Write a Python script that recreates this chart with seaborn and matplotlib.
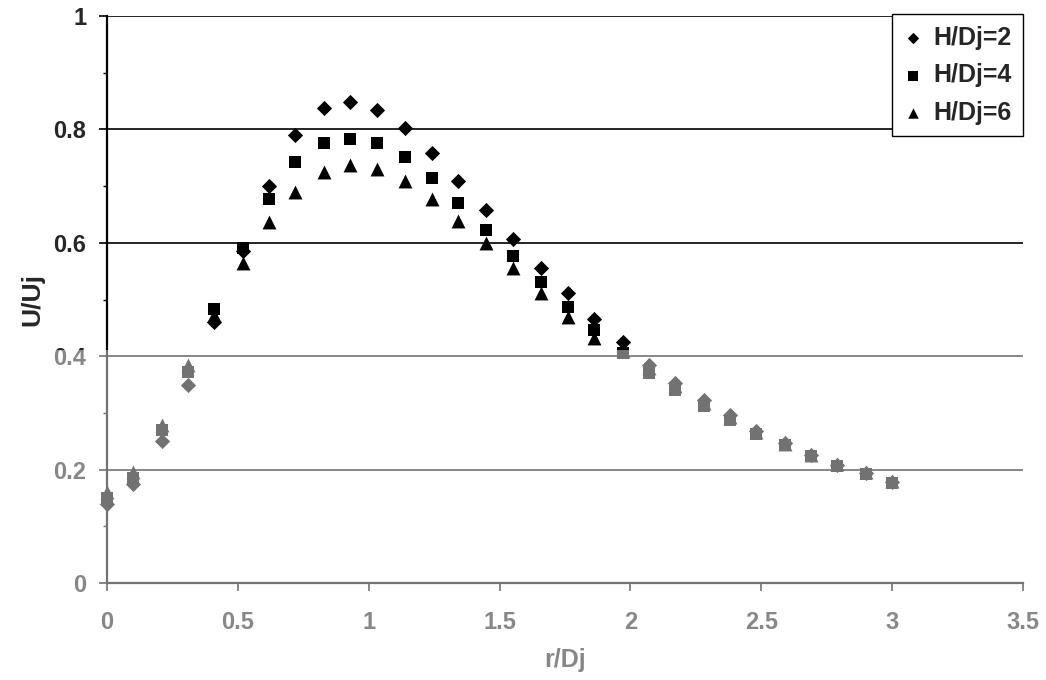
import numpy as np
import pandas as pd
import seaborn as sns
import matplotlib.pyplot as plt
from matplotlib.patches import Rectangle

# r/Dj positions
r = [0.00, 0.10, 0.21, 0.31, 0.41, 0.52, 0.62, 0.72, 0.83, 0.93,
     1.03, 1.14, 1.24, 1.34, 1.45, 1.55, 1.66, 1.76, 1.86, 1.97,
     2.07, 2.17, 2.28, 2.38, 2.48, 2.59, 2.69, 2.79, 2.90, 3.00]

h2 = [0.140, 0.175, 0.250, 0.350, 0.460, 0.585, 0.700, 0.790, 0.838, 0.849,
      0.834, 0.802, 0.759, 0.709, 0.657, 0.606, 0.556, 0.511, 0.465, 0.425,
      0.385, 0.352, 0.322, 0.296, 0.268, 0.247, 0.226, 0.209, 0.194, 0.179]
h4 = [0.150, 0.185, 0.270, 0.372, 0.484, 0.590, 0.678, 0.743, 0.776, 0.783,
      0.776, 0.751, 0.714, 0.670, 0.622, 0.576, 0.531, 0.487, 0.446, 0.405,
      0.370, 0.340, 0.312, 0.287, 0.263, 0.243, 0.224, 0.207, 0.192, 0.177]
h6 = [0.160, 0.195, 0.278, 0.385, 0.472, 0.564, 0.636, 0.690, 0.725, 0.737,
      0.730, 0.709, 0.678, 0.639, 0.599, 0.555, 0.511, 0.469, 0.432, 0.410,
      0.380, 0.348, 0.318, 0.292, 0.267, 0.246, 0.226, 0.210, 0.195, 0.180]

labels = ['H/Dj=2', 'H/Dj=4', 'H/Dj=6']
markers = ['D', 's', '^']
msizes = [60, 85, 100]

xticks = [0, 0.5, 1, 1.5, 2, 2.5, 3, 3.5]
xticklabels = ['0', '0.5', '1', '1.5', '2', '2.5', '3', '3.5']
yticks = [0, 0.2, 0.4, 0.6, 0.8, 1.0]
yticklabels = ['0', '0.2', '0.4', '0.6', '0.8', '1']
yminor = [0.1, 0.3, 0.5, 0.7, 0.9]

sns.set_theme(style='white')
plt.rcParams['font.family'] = ['Liberation Sans', 'DejaVu Sans']
plt.rcParams['font.weight'] = 'bold'

fig = plt.figure(figsize=(10.46, 6.8), dpi=100)
ax = fig.add_axes([0.1023, 0.1426, 0.8757, 0.8339])

for lab, vals, mk, s in zip(labels, [h2, h4, h6], markers, msizes):
    df = pd.DataFrame({'r/Dj': r, 'U/Uj': vals})
    sns.scatterplot(data=df, x='r/Dj', y='U/Uj', marker=mk, s=s, color='black',
                    edgecolor='black', linewidth=0, label=lab, ax=ax, zorder=3,
                    clip_on=False)

ax.set_xlim(0, 3.5)
ax.set_ylim(0, 1)
ax.set_xticks(xticks, xticklabels)
ax.set_yticks(yticks, yticklabels)
ax.set_yticks(yminor, minor=True)
ax.grid(axis='y', which='major', color='black', linewidth=1.2)
ax.grid(axis='x', visible=False)

for side in ['top', 'right']:
    ax.spines[side].set_visible(False)
for side in ['left', 'bottom']:
    ax.spines[side].set_color('black')
    ax.spines[side].set_linewidth(1.6)

ax.tick_params(axis='x', which='major', direction='out', length=6, width=1.2,
               color='black', pad=14, labelsize=17, bottom=True)
ax.tick_params(axis='y', which='major', direction='out', length=6, width=1.2,
               color='black', pad=9, labelsize=17, left=True)
ax.tick_params(axis='y', which='minor', direction='out', length=3, width=1,
               color='black', left=True)
for t in ax.get_xticklabels() + ax.get_yticklabels():
    t.set_fontweight('bold')

ax.set_xlabel('r/Dj', fontsize=18, fontweight='bold', labelpad=10)
ax.set_ylabel('U/Uj', fontsize=19, fontweight='bold', labelpad=6)

leg = ax.legend(loc='upper right', bbox_to_anchor=(1.0, 1.003), borderaxespad=0,
                frameon=True, fancybox=False, edgecolor='black', framealpha=1,
                prop={'weight': 'bold', 'size': 18}, markerscale=0.75,
                handlelength=0.75, handletextpad=0.45, labelspacing=0.55,
                borderpad=0.45)
leg.get_frame().set_linewidth(1.0)
leg.set_zorder(5)

# faded lower part of the scanned page
fig.patches.append(Rectangle((0, 0), 1, 0.485, transform=fig.transFigure,
                             facecolor='white', alpha=0.45, edgecolor='none',
                             zorder=10))

fig.savefig('out.png', dpi=100)
